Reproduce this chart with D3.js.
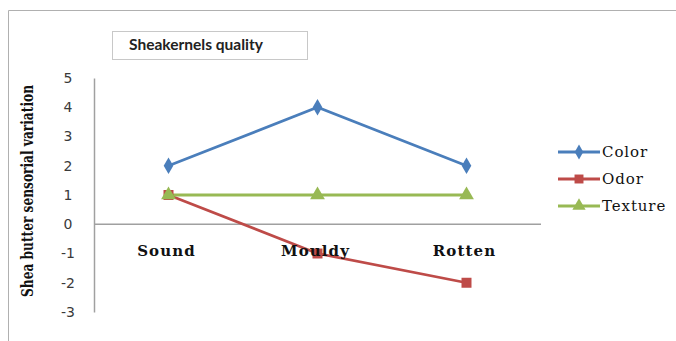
<!DOCTYPE html>
<html>
<head>
<meta charset="utf-8">
<script src="https://cdn.jsdelivr.net/npm/d3@7"></script>
<style>
  html, body { margin: 0; padding: 0; background: #fff; }
  svg { display: block; }
  .serif { font-family: "DejaVu Serif", "Liberation Serif", serif; }
</style>
</head>
<body>
<svg id="chart" width="676" height="341"></svg>
<script>
// Data
const categories = ['Sound', 'Mouldy', 'Rotten'];
const colorValues = [2, 4, 2];
const odorValues = [1, -1, -2];
const textureValues = [1, 1, 1];
const yTicks = [5, 4, 3, 2, 1, 0, -1, -2, -3];

const series = [
  { name: 'Color', values: colorValues, color: '#4a7ebb', symbol: d3.symbolDiamond, size: 80 },
  { name: 'Odor', values: odorValues, color: '#be4b48', symbol: d3.symbolSquare, size: 100 },
  { name: 'Texture', values: textureValues, color: '#98b954', symbol: d3.symbolTriangle, size: 95 }
];

const svg = d3.select('#chart');

// outer frame (top and left edges only visible)
svg.append('path')
  .attr('d', 'M8.5,341 V10.5 H676')
  .attr('fill', 'none')
  .attr('stroke', '#b0b0b0')
  .attr('stroke-width', 1);

// title box
svg.append('rect')
  .attr('x', 112.5).attr('y', 31.5)
  .attr('width', 195).attr('height', 28)
  .attr('fill', '#fff')
  .attr('stroke', '#c8c8c8');
svg.append('text')
  .attr('x', 129).attr('y', 50)
  .attr('font-family', "Lato, 'Open Sans', sans-serif")
  .attr('font-weight', 'bold')
  .attr('font-size', 15)
  .attr('textLength', 134)
  .attr('lengthAdjust', 'spacingAndGlyphs')
  .attr('fill', '#222')
  .text('Sheakernels quality');

// scales
const plotLeft = 94, plotRight = 541;
const x = d3.scalePoint().domain(categories).range([plotLeft, plotRight]).padding(0.5);
const y = d3.scaleLinear().domain([-3, 5]).range([312, 78]);

// y axis
const yAxis = svg.append('g')
  .attr('transform', `translate(${plotLeft},0)`)
  .call(d3.axisLeft(y).tickValues(yTicks).tickSize(0).tickPadding(20).tickFormat(d3.format('d')));
yAxis.select('.domain').attr('stroke', '#a0a0a0').attr('stroke-width', 1.5);
yAxis.selectAll('text')
  .attr('font-family', "'DejaVu Sans', sans-serif")
  .attr('font-size', 14)
  .attr('fill', '#3a3a3a')
  .attr('text-anchor', 'middle')
  .attr('dx', -6)
  .text(d => d < 0 ? '-' + Math.abs(d) : d);

// horizontal axis at y=0
svg.append('line')
  .attr('x1', plotLeft).attr('x2', plotRight)
  .attr('y1', y(0)).attr('y2', y(0))
  .attr('stroke', '#a0a0a0')
  .attr('stroke-width', 1.5);

// y axis title
svg.append('text')
  .attr('class', 'serif')
  .attr('transform', `translate(33,191) rotate(-90)`)
  .attr('text-anchor', 'middle')
  .attr('font-weight', 'bold')
  .attr('font-size', 16)
  .attr('textLength', 212)
  .attr('lengthAdjust', 'spacingAndGlyphs')
  .attr('fill', '#111')
  .text('Shea butter sensorial variation');

// lines and markers
const line = d3.line()
  .x((d, i) => x(categories[i]))
  .y(d => y(d));

series.forEach(s => {
  svg.append('path')
    .datum(s.values)
    .attr('d', line)
    .attr('fill', 'none')
    .attr('stroke', s.color)
    .attr('stroke-width', 2.8);
});

series.forEach(s => {
  svg.append('g').selectAll('path')
    .data(s.values)
    .join('path')
    .attr('transform', (d, i) => `translate(${x(categories[i])},${y(d)})`)
    .attr('d', d3.symbol().type(s.symbol).size(s.size))
    .attr('fill', s.color);
});

// category labels (drawn over the markers, as in the reference)
svg.append('g').selectAll('text')
  .data(categories)
  .join('text')
  .attr('class', 'serif')
  .attr('x', d => x(d) - 2)
  .attr('y', 256)
  .attr('text-anchor', 'middle')
  .attr('font-weight', 'bold')
  .attr('font-size', 15)
  .attr('letter-spacing', 1.1)
  .attr('fill', '#111')
  .text(d => d);

// legend
const legend = svg.append('g');
series.forEach((s, i) => {
  const ly = 152 + i * 27;
  legend.append('line')
    .attr('x1', 558).attr('x2', 600)
    .attr('y1', ly).attr('y2', ly)
    .attr('stroke', s.color)
    .attr('stroke-width', 2.8);
  legend.append('path')
    .attr('transform', `translate(579,${ly})`)
    .attr('d', d3.symbol().type(s.symbol).size(s.size * 0.8))
    .attr('fill', s.color);
  legend.append('text')
    .attr('class', 'serif')
    .attr('x', 602).attr('y', ly + 5)
    .attr('font-size', 15)
    .attr('letter-spacing', 0.9)
    .attr('fill', '#111')
    .text(s.name);
});
</script>
</body>
</html>
